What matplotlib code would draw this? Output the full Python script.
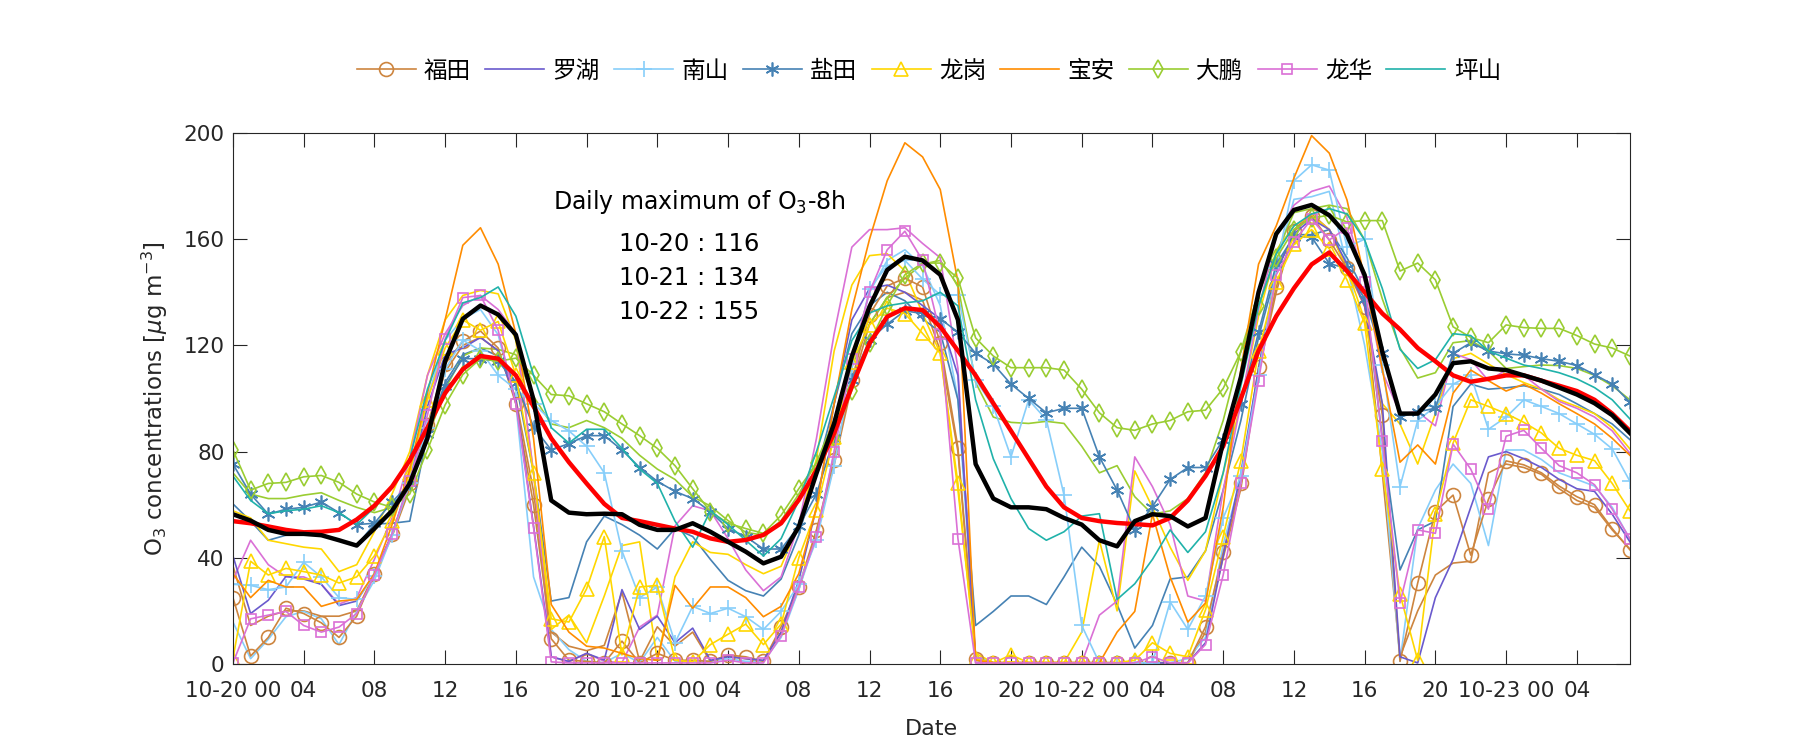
import matplotlib
matplotlib.use("Agg")
import matplotlib.pyplot as plt

plt.rcParams['font.family'] = ['DejaVu Sans', 'Noto Sans CJK SC']

# hourly O3, 10-20 00h .. 10-23 07h (80 hours)
hours = list(range(80))

stations = ['福田', '罗湖', '南山', '盐田', '龙岗', '宝安', '大鹏', '龙华', '坪山']

futian = [25, 3, 10, 21, 19, 15.5, 10, 18, 34, 49, 68, 90, 113, 121.5, 125.4, 119, 98, 60, 9.5, 1.4,
          1, 0.4, 8.6, 0.4, 4, 1.4, 1.4, 1, 3.4, 2.7, 1, 14, 29, 50.5, 77, 107, 131.6, 142.4, 145.3, 142,
          121, 81.5, 2, 0.4, 0.4, 0.4, 0.4, 0.4, 0.4, 0.4, 0.4, 0.4, 0.5, 0.4, 0.4, 14, 42, 68, 112, 142,
          163, 168.6, 159.7, 149, 134.6, 93.7, 1, 30.5, 57.4, 63.6, 41, 62, 76.5, 75, 72, 67, 63, 60, 51, 43]
luohu = [40.7, 19, 24, 33, 32, 30, 22, 23.7, 34, 49, 68, 97, 116.5, 119, 123, 118, 99.5, 52, 2.7, 1,
         4, 1.5, 28, 13, 18, 8, 13.5, 1.4, 2.7, 2, 1.4, 12, 31.5, 59, 98, 129.6, 141.4, 142.7, 140, 135,
         130, 108.7, 1.4, 0.4, 0.4, 0.4, 0.4, 0.4, 0.4, 0.4, 0.4, 0.4, 0.4, 0.4, 0.4, 8, 40.7, 72, 111, 148,
         162, 167.6, 163.6, 150.6, 134.9, 98, 2.7, 0.4, 25, 39.4, 59, 78, 80, 77.3, 74, 69.5, 66, 65, 56.4, 46]
nanshan = [30, 29.6, 28, 29, 38.3, 32.8, 25, 24.3, 33, 48.5, 68, 89, 111, 122, 118, 108.7, 103.5, 98, 91.7, 87.8,
           82, 72, 42.6, 25, 29, 8, 21.7, 19, 21, 17.8, 13, 19.8, 30, 46.6, 74.7, 111, 141.4, 150, 152, 145,
           139, 139, 107, 97, 78, 99.5, 92, 63.6, 14.5, 0.4, 0.4, 0.4, 0.4, 23.4, 13, 25.6, 55, 70.8, 108.7, 149,
           182, 188, 186, 157, 160, 112.6, 66.8, 91.7, 97, 105.4, 108.7, 88.4, 93, 99.5, 97, 94.3, 90.4, 86.5, 81, 68.8]
yantian = [75.3, 64, 56.4, 58.3, 59, 61, 57, 52.5, 53, 61, 68, 86.5, 104.8, 115, 115, 114, 106, 89.3, 80.6, 83,
           86, 86, 80.6, 74, 68.8, 65, 62.3, 57.4, 51, 48, 43.3, 43.3, 51.8, 64, 85, 107, 122, 128, 133, 132,
           130, 125, 117, 113, 105.4, 100, 94.6, 96.3, 96.3, 78, 65.5, 50.5, 59.3, 69.5, 74, 74, 84.5, 98, 125, 150.6,
           161, 160.8, 150.8, 149, 137.5, 117, 93, 95, 96.3, 117, 121, 117.9, 116.8, 116.3, 115, 114, 112.4, 109, 105.4, 98.6]
longgang = [2, 38.7, 33.5, 36, 34.8, 33.5, 30.5, 32.8, 40.7, 53.8, 72, 99.5, 119, 129.6, 125.7, 129, 108.7, 72, 17, 15.8,
            28.3, 48, 3.4, 29, 29.6, 1.4, 0.8, 7.3, 11.2, 15, 7.3, 15, 40, 58, 85.6, 113.9, 127.7, 134, 132, 124.5,
            117, 68, 2, 0.4, 3.4, 0.5, 0.5, 0.5, 0.5, 0.5, 0.5, 1.4, 8, 4, 2.7, 20.4, 48, 76.6, 117.9, 144,
            158, 163.6, 156.4, 144.7, 128.3, 73.4, 26.3, 1.4, 56.4, 83.2, 99.5, 97, 94.3, 91, 87, 81.2, 78.6, 76.6, 68, 57.7]
baoan = [34, 25, 31.5, 29, 29, 21.7, 23.7, 24.3, 34, 52.5, 73.4, 102, 129.6, 157.7, 164.3, 150.6, 124.4, 85, 22.4, 12,
         6.7, 6, 4, 2, 1.4, 29.6, 21, 29, 29, 25, 17.8, 21.7, 34, 59, 98, 133.5, 160, 182, 196.3, 191,
         178.7, 144, 1.4, 0.5, 0.5, 0.5, 0.5, 0.5, 0.5, 0.4, 12, 19.8, 56.4, 32.8, 15.8, 23, 59, 111, 150.6, 165,
         183, 199, 192.4, 174.8, 145.3, 111, 76, 82.5, 75.3, 102, 110.7, 106.7, 102.8, 105.4, 102, 98, 94.3, 90.4, 85, 78.6]
dapeng = [80.6, 65.5, 68, 68.4, 70.5, 71, 68.4, 64, 61, 59, 64, 80.6, 97.6, 109, 115, 114, 115.2, 108.7, 101.5, 101,
          98, 95, 90.4, 86, 81.2, 74.7, 66, 57.4, 53, 51, 49.2, 56, 66, 75.6, 85.6, 103, 120.8, 135, 146.6, 151,
          151, 145.3, 122.8, 116, 111.6, 111.6, 111.6, 110.7, 103.5, 94.6, 89, 88, 90.4, 91.7, 95, 95.6, 103.8, 117.6, 135, 152.8,
          163.6, 168, 169, 166.5, 167, 167, 148, 151, 144.7, 127, 123, 121, 127.7, 126.7, 126.4, 126.4, 123.7, 120.5, 119, 116]
longhua = [0.4, 17, 18.4, 19.8, 14.5, 12, 13.9, 19, 33.5, 49, 68.8, 93.7, 122.4, 138, 138.8, 125.7, 98, 51.4, 0.8, 0.4,
           0.4, 0.4, 0.4, 0.4, 0.4, 0.4, 0.4, 0.4, 1.4, 0.4, 0.4, 10.6, 29, 48, 80, 115, 140, 156, 163, 152,
           124.4, 47.2, 0.4, 0.4, 0.4, 0.4, 0.4, 0.4, 0.4, 0.4, 0.4, 0.4, 2.7, 0.4, 0.4, 7.3, 33.5, 68, 106.7, 146.6,
           159, 167.6, 159.7, 164.3, 144, 83.8, 23, 50.5, 49.2, 82.8, 73.4, 58.3, 85.8, 88, 81.2, 74.7, 72, 67.5, 58.3, 47.2]
pingshan = [70.8, 61.6, 56.6, 57.7, 58.3, 59.6, 57, 52.5, 59, 66.2, 77.3, 103.5, 121.8, 136, 138, 142, 131, 108.7, 89, 83.2,
            88.4, 88.4, 81.2, 73.4, 68, 53.8, 44, 57.7, 52.5, 46.6, 40.7, 47.2, 61.6, 80, 100.8, 121.8, 132.2, 134.9, 136, 136.8,
            140, 134.9, 99.5, 77.3, 62.3, 51, 46.6, 49.8, 55.7, 56.6, 24.3, 30.2, 39.4, 50.5, 42, 49.8, 72, 104.8, 134.9, 154.5,
            165, 169.5, 171.5, 169.5, 159.7, 141.4, 118.5, 111.3, 114.6, 124.4, 123.7, 117.9, 115.2, 112.6, 111.3, 109.7, 107.4, 104.1, 99.5, 92.3]

# second site in some districts (same colour, no marker, not in legend)
futian_2 = [37, 14.5, 18, 20, 20, 18, 18, 20, 34, 48, 66, 88, 110, 120, 123, 118, 100, 65, 12, 6.7,
            5, 7, 27, 1, 14, 6.7, 12, 1, 3, 2, 1, 12, 28, 50, 75, 105, 128, 138, 140, 137,
            118, 80, 2, 0.5, 0.5, 0.5, 0.5, 0.5, 0.5, 0.5, 0.5, 0.5, 0.5, 0.5, 0.5, 12, 40, 66, 110, 140,
            163.6, 169.5, 163.6, 149, 137.5, 72, 2.7, 20, 33.5, 38, 38.7, 72, 75.3, 74, 71.4, 66, 61.6, 59, 50.5, 43.3]
nanshan_2 = [15.8, 2, 9.3, 17.8, 19.8, 17, 7.3, 19.8, 31.5, 48.5, 70, 100, 122, 130, 133.5, 124, 98, 32.8, 13, 5.4,
             1, 0.5, 4, 0.5, 10, 1, 1, 1, 2, 1, 1, 10, 28, 48, 80, 115, 140, 152, 156, 150,
             135, 100, 3, 0.5, 0.5, 0.5, 0.5, 0.5, 0.5, 0.5, 0.5, 0.5, 0.5, 0.5, 2, 10, 45, 70, 110, 150,
             175, 176, 178, 150, 120, 80, 1, 51, 65.5, 75.3, 68, 44.6, 80.6, 80.6, 77, 72, 69.5, 67, 59, 47]
yantian_2 = [60.3, 53.8, 46.6, 48.5, 49, 49, 46.6, 44.6, 52.7, 53, 53.8, 86.5, 106, 116.5, 119, 116, 106, 72, 23.7, 25,
             46, 55.7, 52.5, 48.5, 43.3, 51, 48, 39.4, 31.5, 27.6, 25.6, 32, 48.5, 72, 98, 124.4, 135, 140, 136.8, 130,
             125, 99.5, 14.5, 19.8, 25.6, 25.6, 22.4, 32.8, 44, 36.8, 22.4, 6, 14.5, 32, 32.8, 42.6, 65.5, 91.7, 123, 148,
             161.7, 161.7, 163.6, 153, 140, 85, 35.4, 50.5, 53.8, 97, 105.4, 103.5, 104, 104.8, 103.5, 101.5, 98, 94.3, 90.4, 84.5]
longgang_2 = [57.7, 55, 46.6, 45.3, 44, 43.3, 34.8, 37.4, 49.8, 64, 80, 108.7, 129.6, 138.8, 140.7, 139.4, 121.8, 72, 13, 18.4,
              8, 25.6, 44.6, 46, 1.4, 32.8, 46, 42, 41.3, 37.4, 34, 36.8, 52.5, 77.3, 117.9, 142.7, 153.8, 154.5, 148, 132,
              117, 65.5, 4, 0.5, 0.5, 0.5, 0.5, 0.5, 12, 46.6, 20, 72.7, 59, 44, 31.5, 42.6, 72, 98, 131, 155.8,
              165, 168.9, 163.6, 149, 129.6, 98, 90.4, 75.3, 94.3, 115, 117, 113, 109, 106, 103.5, 99.5, 97, 94.3, 89, 81]
dapeng_2 = [72, 64, 62.3, 62.3, 63.6, 64.5, 61.6, 59, 57, 59, 66.8, 85, 103.5, 116, 119, 118.5, 116.5, 100.8, 90.4, 89,
            91.7, 89, 85, 78.6, 73.4, 69.5, 63, 59.5, 54, 49.6, 48.5, 54, 64, 76, 92, 112, 128, 138, 145.3, 150.6,
            152, 142.7, 106, 93, 91, 90.6, 91.4, 90.6, 82, 72, 74.7, 63, 56.4, 57.7, 62.3, 72, 91.7, 117.9, 140, 154.5,
            170, 171.5, 172.8, 171.5, 159.7, 137.5, 119, 107.7, 109.7, 121, 121.8, 117.9, 111.3, 112, 112.6, 112.4, 111.3, 108.7, 104.8, 99.5]
longhua_2 = [31.5, 46.6, 37.4, 32.8, 32.8, 30, 22.6, 25, 39.4, 55, 77.3, 108.7, 124.4, 135, 138.8, 133.5, 124.4, 72, 2.7, 0.8,
             4, 1, 0.5, 13.9, 18.4, 52, 59.6, 57.7, 47.2, 35.4, 27.6, 32.8, 52.5, 85, 124.4, 157, 163.6, 163.6, 164.3, 158.4,
             153, 111.3, 0.4, 0.4, 0.4, 0.4, 0.4, 0.4, 0.4, 18.4, 23.7, 78, 66.8, 52.5, 25.6, 23.7, 65.5, 98, 133.5, 161,
             172.8, 178, 180, 168.2, 144, 110, 94.3, 95, 89.7, 117, 114.6, 106.7, 110.7, 108.7, 103.5, 98.9, 96.3, 93, 87.8, 79.3]

# average of all sites and its 8-h running mean
mean_o3 = [56.4, 54, 50.5, 49, 49, 48.5, 46.6, 44.6, 51, 57.7, 68, 85, 114, 130, 135, 131.6, 124, 99.5, 61.6, 57,
           56.4, 56.6, 56.4, 52.4, 50.5, 50.5, 53, 49.8, 46, 42.3, 37.9, 40.4, 51.7, 71.8, 90.6, 115.8, 134.6, 148.4, 153.4, 152,
           146.6, 129.6, 75.3, 62.3, 59, 59, 58.3, 55, 52.5, 46.6, 44.3, 53.8, 56.4, 55.7, 51.8, 55, 83.7, 108, 140, 162,
           171, 172.9, 169, 161.6, 146.5, 117.6, 94.3, 94.3, 101.5, 113.3, 114, 111.3, 110.7, 108.7, 106.7, 104.1, 101.5, 98.2, 93.7, 87]
o3_8h = [53.8, 53, 51.8, 50.5, 49.6, 49.8, 50.5, 54.4, 59.6, 66.8, 76.7, 89, 102, 111, 116, 115, 108.7, 97, 85, 76,
         68, 60.3, 55, 53.8, 52.4, 51, 49.8, 47.3, 46, 46.7, 48.6, 53, 61.8, 73, 86.9, 104.5, 120.8, 130.8, 134, 133.3,
         127, 118, 108.7, 98.2, 87.8, 77.3, 66.8, 59, 55, 53.8, 53.1, 52.7, 52.2, 55, 61.6, 70.8, 82, 100, 118, 131,
         141.5, 150.5, 155, 148, 140, 132, 126, 119, 114, 108.7, 106.3, 107.4, 108.7, 108.7, 106.7, 104.8, 102.8, 99.5, 94.3, 87.8]

daily_max = ['10-20 : 116', '10-21 : 134', '10-22 : 155']

colors = ['#CD853F', '#6A5ACD', '#87CEFA', '#4682B4', '#FFD700', '#FF8C00', '#9ACD32', '#DA70D6', '#20B2AA']
markers = ['o', None, '+', (6, 2, 0), '^', None, 'd', 's', None]
msizes = [10, 0, 11, 10, 9.5, 0, 9, 7, 0]

main_series = [futian, luohu, nanshan, yantian, longgang, baoan, dapeng, longhua, pingshan]
extra_series = [(futian_2, 0), (nanshan_2, 2), (yantian_2, 3), (longgang_2, 4), (dapeng_2, 6), (longhua_2, 7)]

fig = plt.figure(figsize=(18, 7.5), dpi=100)
ax = fig.add_axes([0.1294, 0.1147, 0.7761, 0.708])

for vals, ci in extra_series:
    ax.plot(hours, vals, color=colors[ci], lw=1.2)

handles = []
for i, vals in enumerate(main_series):
    if markers[i]:
        h, = ax.plot(hours, vals, color=colors[i], lw=1.2, marker=markers[i], ms=msizes[i],
                     mfc='none', mew=1.2, label=stations[i])
    else:
        h, = ax.plot(hours, vals, color=colors[i], lw=1.2, label=stations[i])
    handles.append(h)

ax.plot(hours, o3_8h, color='red', lw=3.2)
ax.plot(hours, mean_o3, color='black', lw=3.2)

ax.set_xlim(0, 79)
ax.set_ylim(0, 200)

tick_pos = list(range(0, 80, 4))
tick_lab = []
for t in tick_pos:
    if t % 24 == 0:
        tick_lab.append('10-%d 00' % (20 + t // 24))
    else:
        tick_lab.append('%02d' % (t % 24))
ax.set_xticks(tick_pos)
ax.set_xticklabels(tick_lab)
ax.set_yticks([0, 40, 80, 120, 160, 200])

tick_font = ['Liberation Sans Narrow', 'DejaVu Sans']
for lab in ax.get_xticklabels() + ax.get_yticklabels():
    lab.set_family(tick_font)
    lab.set_fontsize(15.5)
    lab.set_color('#262626')

ax.tick_params(direction='in', length=10, width=0.8, top=True, right=True, colors='#262626')
ax.tick_params(axis='x', pad=12)
ax.tick_params(axis='y', pad=6)
for sp in ax.spines.values():
    sp.set_color('#262626')
    sp.set_linewidth(0.8)

ax.set_xlabel('Date', fontsize=16, color='#262626', labelpad=13)
ax.set_ylabel(r'O$_3$ concentrations [$\mu$g m$^{-3}$]', fontsize=16.5, color='#262626', labelpad=10)

ax.text(26.4, 174, 'Daily maximum of O$_3$-8h', fontsize=17, ha='center', va='center')
for k, s in enumerate(daily_max):
    ax.text(25.8, 158 - 12.7 * k, s, fontsize=17.5, ha='center', va='center')

fig.legend(handles=handles, loc='center', bbox_to_anchor=(0.516, 0.905), ncol=9, frameon=False,
           prop={'family': ['Noto Sans CJK SC', 'DejaVu Sans'], 'size': 17},
           handlelength=2.5, handletextpad=0.35, columnspacing=0.6, numpoints=1)

fig.savefig('out.png', dpi=100)
